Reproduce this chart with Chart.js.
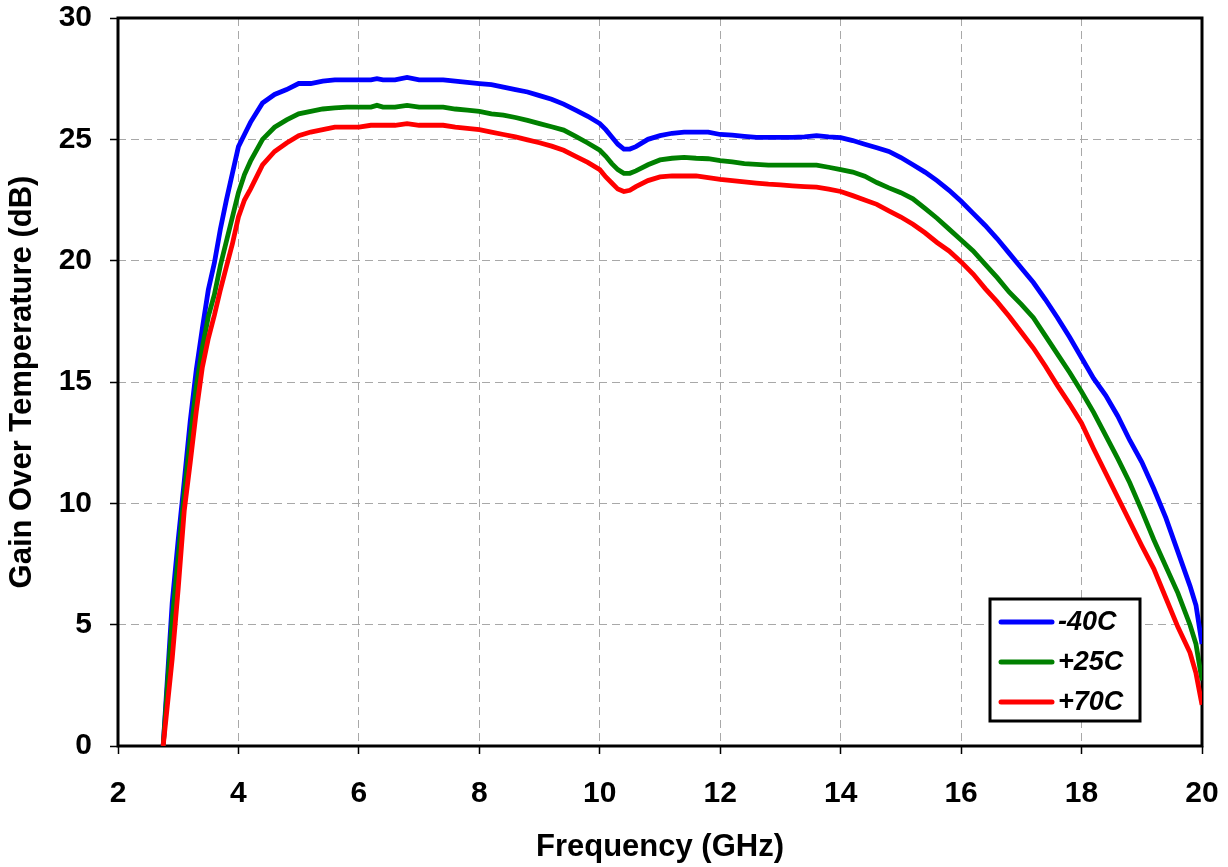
<!DOCTYPE html>
<html>
<head>
<meta charset="utf-8">
<title>Gain Over Temperature</title>
<script src="https://cdn.jsdelivr.net/npm/chart.js@4/dist/chart.umd.min.js"></script>
<style>
  html, body { margin: 0; padding: 0; background: #fff; }
  #wrap { width: 1228px; height: 867px; }
</style>
</head>
<body>
<div id="wrap"><canvas id="gainChart"></canvas></div>
<script>
// frequency points (GHz)
const freq = [
  2.75, 2.9, 3.0, 3.1, 3.2, 3.3, 3.4, 3.5, 3.6, 3.7,
  3.8, 3.9, 4.0, 4.1, 4.2, 4.4, 4.6, 4.8, 5.0, 5.2,
  5.4, 5.6, 5.8, 6.0, 6.2, 6.3, 6.4, 6.6, 6.8, 7.0,
  7.2, 7.4, 7.6, 7.8, 8.0, 8.2, 8.4, 8.6, 8.8, 9.0,
  9.2, 9.4, 9.6, 9.8, 10.0, 10.1, 10.2, 10.3, 10.4, 10.5,
  10.6, 10.8, 11.0, 11.2, 11.4, 11.6, 11.8, 12.0, 12.2, 12.4,
  12.6, 12.8, 13.0, 13.2, 13.4, 13.6, 13.8, 14.0, 14.2, 14.4,
  14.6, 14.8, 15.0, 15.2, 15.4, 15.6, 15.8, 16.0, 16.2, 16.4,
  16.6, 16.8, 17.0, 17.2, 17.4, 17.6, 17.8, 18.0, 18.2, 18.4,
  18.6, 18.8, 19.0, 19.2, 19.4, 19.6, 19.8, 19.9, 20.0
];

// gain in dB at -40C
const gainCold = [
  0, 5.9, 8.5, 10.9, 13.4, 15.5, 17.2, 18.8, 19.9, 21.3,
  22.5, 23.6, 24.7, 25.2, 25.7, 26.5, 26.85, 27.05, 27.3, 27.3,
  27.4, 27.45, 27.45, 27.45, 27.45, 27.5, 27.45, 27.45, 27.55, 27.45,
  27.45, 27.45, 27.4, 27.35, 27.3, 27.25, 27.15, 27.05, 26.95, 26.8,
  26.65, 26.45, 26.2, 25.95, 25.65, 25.4, 25.1, 24.8, 24.6, 24.6,
  24.7, 25.0, 25.15, 25.25, 25.3, 25.3, 25.3, 25.2, 25.17, 25.12,
  25.08, 25.08, 25.08, 25.08, 25.1, 25.15, 25.1, 25.07, 24.95, 24.8,
  24.65, 24.5, 24.25, 23.95, 23.65, 23.3, 22.9, 22.45, 21.95, 21.45,
  20.9, 20.3, 19.7, 19.1, 18.4, 17.65, 16.85, 16.0, 15.15, 14.45,
  13.6, 12.6, 11.7, 10.6, 9.4, 8.0, 6.6, 5.8, 4.2
];

// gain in dB at +25C
const gainRoom = [
  0, 5.2, 7.8, 10.4, 12.7, 14.8, 16.4, 17.7, 18.6, 19.8,
  20.8, 21.8, 22.8, 23.55, 24.1, 25.0, 25.5, 25.8, 26.05, 26.15,
  26.25, 26.3, 26.33, 26.33, 26.33, 26.4, 26.33, 26.33, 26.4, 26.33,
  26.33, 26.33, 26.25, 26.2, 26.15, 26.05, 26.0, 25.9, 25.78, 25.65,
  25.52, 25.38, 25.12, 24.85, 24.55, 24.3, 24.0, 23.75, 23.6, 23.6,
  23.7, 23.95, 24.15, 24.22, 24.26, 24.22, 24.2, 24.12, 24.07, 24.0,
  23.97, 23.94, 23.94, 23.94, 23.94, 23.94, 23.85, 23.75, 23.65, 23.48,
  23.22, 23.0, 22.8, 22.55, 22.15, 21.75, 21.3, 20.85, 20.4, 19.85,
  19.3, 18.7, 18.2, 17.65, 16.9, 16.15, 15.4, 14.6, 13.75, 12.8,
  11.85, 10.85, 9.7, 8.5, 7.4, 6.3, 5.0, 4.2, 2.7
];

// gain in dB at +70C
const gainHot = [
  0, 3.6, 6.5, 9.7, 11.7, 13.8, 15.6, 16.8, 17.75, 18.8,
  19.75, 20.7, 21.8, 22.5, 22.95, 23.95, 24.5, 24.85, 25.15, 25.3,
  25.4, 25.5, 25.5, 25.5, 25.58, 25.58, 25.58, 25.58, 25.65, 25.58,
  25.58, 25.58, 25.5, 25.45, 25.4, 25.3, 25.2, 25.1, 24.98, 24.86,
  24.72, 24.55, 24.3, 24.05, 23.75, 23.45, 23.2, 22.95, 22.85, 22.9,
  23.05, 23.3, 23.45, 23.49, 23.49, 23.49, 23.42, 23.35, 23.3, 23.25,
  23.2, 23.15, 23.12, 23.08, 23.05, 23.03, 22.95, 22.85, 22.68, 22.5,
  22.32, 22.05, 21.8, 21.5, 21.15, 20.75, 20.4, 19.95, 19.45, 18.85,
  18.3, 17.7, 17.05, 16.4, 15.65, 14.85, 14.1, 13.3, 12.25, 11.25,
  10.25, 9.25, 8.25, 7.3, 6.1, 4.9, 3.85, 3.0, 1.7
];

const seriesLabels = ["-40C", "+25C", "+70C"];
const seriesColors = ["#0000ff", "#008000", "#ff0000"];
const seriesData = [gainCold, gainRoom, gainHot];

const FONT = "'Liberation Sans', Arial, Helvetica, sans-serif";

// pair each gain list with the frequencies
function toPoints(values) {
  return values.map((g, i) => ({ x: freq[i], y: g }));
}

// thick black box round the plot area
const framePlugin = {
  id: "frame",
  beforeDatasetsDraw(chart) {
    const { ctx, chartArea: a } = chart;
    ctx.save();
    ctx.strokeStyle = "#000";
    ctx.lineWidth = 3;
    ctx.strokeRect(a.left, a.top, a.right - a.left, a.bottom - a.top);
    ctx.restore();
  },
};

// boxed legend sitting in the lower right of the plot
const boxLegendPlugin = {
  id: "boxLegend",
  afterDatasetsDraw(chart) {
    const { ctx, chartArea: a } = chart;
    const left = a.right - 212;
    const top = a.bottom - 147;
    const w = 150;
    const h = 122;
    ctx.save();
    ctx.fillStyle = "#fff";
    ctx.fillRect(left, top, w, h);
    ctx.strokeStyle = "#000";
    ctx.lineWidth = 3;
    ctx.strokeRect(left, top, w, h);

    ctx.font = "italic bold 27px " + FONT;
    ctx.textBaseline = "middle";
    ctx.textAlign = "left";
    chart.data.datasets.forEach((ds, i) => {
      const y = top + 23 + i * 40;
      ctx.strokeStyle = ds.borderColor;
      ctx.lineWidth = 5;
      ctx.lineCap = "round";
      ctx.beginPath();
      ctx.moveTo(left + 11, y);
      ctx.lineTo(left + 62, y);
      ctx.stroke();
      ctx.fillStyle = "#000";
      ctx.fillText(ds.label, left + 68, y + 1);
    });
    ctx.restore();
  },
};

const datasets = seriesData.map((vals, i) => ({
  label: seriesLabels[i],
  data: toPoints(vals),
  borderColor: seriesColors[i],
  backgroundColor: seriesColors[i],
  borderWidth: 4.8,
  pointRadius: 0,
  tension: 0,
  fill: false,
  // red drawn on top, blue underneath
  order: seriesData.length - i,
}));

const gridOpts = {
  color: "#a8a8a8",
  lineWidth: 1,
  tickColor: "#000",
  tickLength: 8,
  tickWidth: 1.5,
  tickBorderDash: [],
};

new Chart(document.getElementById("gainChart"), {
  type: "line",
  data: { datasets },
  options: {
    responsive: true,
    maintainAspectRatio: false,
    animation: false,
    layout: { padding: { top: 18, right: 26, left: 0, bottom: 0 } },
    plugins: {
      legend: { display: false },
      tooltip: { enabled: false },
    },
    scales: {
      x: {
        type: "linear",
        min: 2,
        max: 20,
        ticks: {
          stepSize: 2,
          color: "#000",
          padding: 22,
          maxRotation: 0,
          font: { family: FONT, size: 30, weight: "bold" },
        },
        grid: gridOpts,
        border: { display: false, dash: [8, 5] },
        title: {
          display: true,
          text: "Frequency (GHz)",
          color: "#000",
          padding: { top: 0, bottom: 1 },
          font: { family: FONT, size: 31, weight: "bold" },
        },
        afterFit(scale) {
          scale.height = 121;
          // end labels already fit inside the layout padding
          scale.paddingLeft = 0;
          scale.paddingRight = 0;
        },
      },
      y: {
        min: 0,
        max: 30,
        ticks: {
          stepSize: 5,
          color: "#000",
          padding: 18,
          font: { family: FONT, size: 30, weight: "bold" },
        },
        grid: gridOpts,
        border: { display: false, dash: [8, 5] },
        title: {
          display: true,
          text: "Gain Over Temperature (dB)",
          color: "#000",
          padding: { top: 4, bottom: 0 },
          font: { family: FONT, size: 31, weight: "bold" },
        },
        afterFit(scale) {
          scale.width = 118;
          scale.paddingTop = 0;
          scale.paddingBottom = 0;
        },
      },
    },
  },
  plugins: [framePlugin, boxLegendPlugin],
});
</script>
</body>
</html>
